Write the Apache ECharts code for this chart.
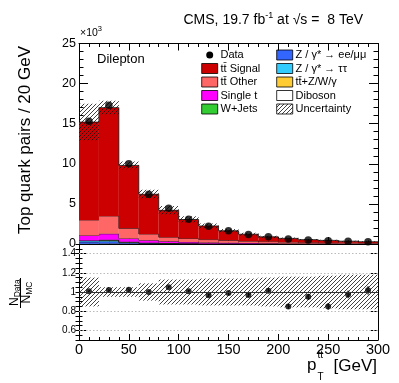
<!DOCTYPE html>
<html><head><meta charset="utf-8">
<script src="https://cdn.jsdelivr.net/npm/echarts@6/dist/echarts.min.js"></script>
<style>html,body{margin:0;padding:0;background:#fff}#c{width:399px;height:383px}</style>
</head><body><div id="c"></div>
<script>
// ---- data (values in units of 10^3 events) ----
const binLow   = [0,20,40,60,80,100,120,140,160,180,200,220,240,260,280];
const binWidth = 20;
const dataVals = [15.3,17.3,10.0,6.2,4.45,3.1,2.2,1.65,1.2,0.91,0.62,0.51,0.39,0.34,0.29];
const diboson  = [0.04,0.05,0.03,0.02,0.015,0.012,0.01,0.008,0.006,0.005,0.004,0.003,0.003,0.002,0.002];
const zll      = [0.22,0.25,0.12,0.07,0.05,0.035,0.025,0.02,0.015,0.012,0.01,0.008,0.006,0.005,0.004];
const ztt      = [0.14,0.16,0.07,0.03,0.02,0.012,0.008,0.006,0.004,0.003,0.002,0.002,0.001,0.001,0.001];
const ttv      = [0.02,0.03,0.03,0.03,0.025,0.02,0.018,0.015,0.012,0.01,0.008,0.007,0.006,0.005,0.004];
const wjets    = [0.03,0.03,0.02,0.01,0.008,0.006,0.004,0.003,0.002,0.002,0.001,0.001,0.001,0.001,0.001];
const singleT  = [0.61,0.75,0.42,0.30,0.22,0.17,0.13,0.10,0.08,0.065,0.05,0.04,0.033,0.027,0.022];
const ttOther  = [1.94,2.23,1.26,0.79,0.51,0.43,0.355,0.30,0.24,0.20,0.175,0.14,0.12,0.10,0.086];
const ttSignal = [12.2,13.5,7.85,4.95,3.35,2.37,1.70,1.20,0.86,0.60,0.45,0.34,0.28,0.21,0.16];
const relUnc   = [0.15,0.05,0.05,0.09,0.13,0.13,0.14,0.14,0.14,0.15,0.16,0.16,0.17,0.18,0.18];
const ratioVals= [1.007,1.02,1.024,1.0,1.05,1.007,0.965,0.99,0.97,1.014,0.85,0.95,0.85,0.975,1.017];
const ratioErr = [0.01,0.01,0.01,0.01,0.012,0.015,0.015,0.02,0.02,0.025,0.025,0.03,0.035,0.04,0.045];
const xTicks   = [0,50,100,150,200,250,300];
const ratioTicks = [0.6,0.8,1,1.2,1.4];
const ratioGridLines = [0.6,0.8,1.2,1.4];
const legendCol1 = ['Data','tt\u0304 Signal','tt\u0304 Other','Single t','W+Jets'];
const legendCol2 = ['Z / \u03b3* \u2192 ee/\u03bc\u03bc','Z / \u03b3* \u2192 \u03c4\u03c4','tt\u0304+Z/W/\u03b3','Diboson','Uncertainty'];

const FONT = "'Liberation Sans', Arial, Helvetica, sans-serif";
const comps = [
  {name:'Diboson', vals:diboson, color:'#ffffff'},
  {name:legendCol2[0], vals:zll, color:'#3366ff'},
  {name:legendCol2[1], vals:ztt, color:'#33ccff'},
  {name:legendCol2[2], vals:ttv, color:'#ffcc33'},
  {name:'W+Jets', vals:wjets, color:'#33cc33'},
  {name:'Single t', vals:singleT, color:'#ff00ff'},
  {name:legendCol1[2], vals:ttOther, color:'#ff6666'},
  {name:legendCol1[1], vals:ttSignal, color:'#cc0000'}
];
const colorOf = {}; comps.forEach(c=>colorOf[c.name]=c.color);

function hatchCanvas(){
  const c=document.createElement('canvas'); c.width=4; c.height=4;
  const g=c.getContext('2d'); g.strokeStyle='#111'; g.lineWidth=0.8;
  g.beginPath(); g.moveTo(0,4); g.lineTo(4,0); g.moveTo(-1,1); g.lineTo(1,-1); g.moveTo(3,5); g.lineTo(5,3); g.stroke();
  return c;
}
const hatch = {image: hatchCanvas(), repeat:'repeat'};

// stacking
let base = binLow.map(()=>0);
const series = [];
comps.forEach(c=>{
  const b = base.slice();
  const tops = b.map((v,i)=>v+c.vals[i]);
  series.push({
    type:'custom', name:c.name, xAxisIndex:0, yAxisIndex:0, clip:true, silent:true,
    data: binLow.map((x,i)=>[x, x+binWidth, b[i], tops[i], i<tops.length-1?tops[i+1]:tops[i]]),
    renderItem(params, api){
      const p0=api.coord([api.value(0),api.value(2)]), p1=api.coord([api.value(1),api.value(3)]);
      const pn=api.coord([api.value(1),api.value(4)]);
      return {type:'group', children:[
        {type:'rect', shape:{x:p0[0], y:p1[1], width:p1[0]-p0[0], height:p0[1]-p1[1]}, style:{fill:c.color}},
        {type:'line', shape:{x1:p0[0],y1:p1[1],x2:p1[0],y2:p1[1]}, style:{stroke:'#111',lineWidth:0.8}},
        {type:'line', shape:{x1:p1[0],y1:p1[1],x2:p1[0],y2:pn[1]}, style:{stroke:'#111',lineWidth:0.8}}
      ]};
    }
  });
  base = tops;
});
const mcTotal = base;

series.push({
  type:'custom', name:'Uncertainty', xAxisIndex:0, yAxisIndex:0, clip:true, silent:true,
  data: binLow.map((x,i)=>[x, x+binWidth, mcTotal[i]*(1-relUnc[i]), mcTotal[i]*(1+relUnc[i])]),
  renderItem(params, api){
    const p0=api.coord([api.value(0),api.value(2)]), p1=api.coord([api.value(1),api.value(3)]);
    return {type:'rect', shape:{x:p0[0], y:p1[1], width:p1[0]-p0[0], height:p0[1]-p1[1]}, style:{fill:hatch}};
  }
});
series.push({
  type:'scatter', name:'Data', xAxisIndex:0, yAxisIndex:0, symbol:'circle', symbolSize:7.5,
  itemStyle:{color:'#000'}, silent:true,
  data: binLow.map((x,i)=>[x+binWidth/2, dataVals[i]])
});
// ratio panel
series.push({
  type:'custom', name:'ratioBand', xAxisIndex:2, yAxisIndex:2, clip:true, silent:true,
  data: binLow.map((x,i)=>[x, x+binWidth, 1-relUnc[i], 1+relUnc[i]]),
  renderItem(params, api){
    const p0=api.coord([api.value(0),api.value(2)]), p1=api.coord([api.value(1),api.value(3)]);
    return {type:'rect', shape:{x:p0[0], y:p1[1], width:p1[0]-p0[0], height:p0[1]-p1[1]}, style:{fill:hatch}};
  },
  markLine:{silent:true, symbol:'none', label:{show:false},
    data:[...ratioGridLines.map(v=>({yAxis:v, lineStyle:{color:'#bbb', type:[1.5,2], width:1}})),
          {yAxis:1, lineStyle:{color:'#333', type:'solid', width:1}}]}
});
series.push({
  type:'custom', name:'ratioErr', xAxisIndex:2, yAxisIndex:2, silent:true,
  data: binLow.map((x,i)=>[x+binWidth/2, ratioVals[i]-ratioErr[i], ratioVals[i]+ratioErr[i]]),
  renderItem(params, api){
    const a=api.coord([api.value(0),api.value(1)]), b=api.coord([api.value(0),api.value(2)]);
    return {type:'line', shape:{x1:a[0],y1:a[1],x2:b[0],y2:b[1]}, style:{stroke:'#000',lineWidth:1}};
  }
});
series.push({
  type:'scatter', name:'ratio', xAxisIndex:2, yAxisIndex:2, symbol:'circle', symbolSize:6,
  itemStyle:{color:'#000'}, silent:true,
  data: binLow.map((x,i)=>[x+binWidth/2, ratioVals[i]])
});

const line = {show:true, onZero:false, lineStyle:{color:'#000', width:1}};
const xBase = {type:'value', min:0, max:300, interval:50, splitLine:{show:false}, axisLine:line};
const xAxis = [
  {...xBase, gridIndex:0, position:'bottom', axisLabel:{show:false}, axisTick:{inside:true,length:7,lineStyle:{color:'#000'}}, minorTick:{show:true,splitNumber:5,length:3.5,lineStyle:{color:'#000'}}},
  {...xBase, gridIndex:0, position:'top', axisLabel:{show:false}, axisTick:{inside:true,length:7,lineStyle:{color:'#000'}}, minorTick:{show:true,splitNumber:5,length:3.5,lineStyle:{color:'#000'}}},
  {...xBase, gridIndex:1, position:'bottom', axisLabel:{show:true, fontSize:14.5, fontFamily:FONT, color:'#000', margin:2, customValues:xTicks}, axisTick:{inside:true,length:6,lineStyle:{color:'#000'}}, minorTick:{show:true,splitNumber:5,length:3,lineStyle:{color:'#000'}}},
  {...xBase, gridIndex:1, position:'top', axisLabel:{show:false}, axisTick:{show:false}}
];
const yMain = {type:'value', gridIndex:0, min:0, max:25, interval:5, splitLine:{show:false}, axisLine:line,
  axisTick:{inside:true,length:9,lineStyle:{color:'#000'}}, minorTick:{show:true,splitNumber:5,length:4.5,lineStyle:{color:'#000'}}};
const yR = {type:'value', gridIndex:1, min:0.5, max:1.5, splitLine:{show:false}};
const yAxis = [
  {...yMain, position:'left', axisLabel:{fontSize:12.5, fontFamily:FONT, color:'#000', margin:3}},
  {...yMain, position:'right', axisLabel:{show:false}},
  {...yR, position:'left', axisLine:line, axisLabel:{fontSize:10, fontFamily:FONT, color:'#000', margin:3, customValues:ratioTicks, formatter:v=>(Math.abs(v-1)<1e-6?'1':(+v).toFixed(1))}, axisTick:{inside:true,length:7,customValues:ratioTicks,lineStyle:{color:'#000'}}},
  {...yR, position:'right', axisLine:line, axisLabel:{show:false}, axisTick:{inside:true,length:7,customValues:ratioTicks,lineStyle:{color:'#000'}}},
  {...yR, position:'left', interval:0.05, axisLine:{show:false}, axisLabel:{show:false}, axisTick:{inside:true,length:3.5,lineStyle:{color:'#000'}}},
  {...yR, position:'right', interval:0.05, axisLine:{show:false}, axisLabel:{show:false}, axisTick:{inside:true,length:3.5,lineStyle:{color:'#000'}}}
];

// ---- text / legend graphics ----
const mctx = document.createElement('canvas').getContext('2d');
function tw(t, size){ mctx.font = size+'px '+FONT; return mctx.measureText(t).width; }
function txt(t, x, y, size, extra){ return {type:'text', x, y, silent:true, style:Object.assign({text:t, fontSize:size, fontFamily:FONT, fill:'#000', align:'left', verticalAlign:'middle'}, extra||{})}; }

const graphic = [];
// header
const h1='CMS, 19.7 fb', h2='-1', h3=' at \u221as =  8 TeV';
const hw = tw(h1,14)+tw(h2,9)+tw(h3,14);
let hx = 363 - hw;
graphic.push(txt(h1,hx,20,14)); hx+=tw(h1,14);
graphic.push(txt(h2,hx,15.5,9)); hx+=tw(h2,9);
graphic.push(txt(h3,hx,20,14));
// x10^3
graphic.push(txt('\u00d710',80,33,10.5));
graphic.push(txt('3',80+tw('\u00d710',10.5),28.5,7.5));
// Dilepton
graphic.push(txt('Dilepton',97,59.5,13));
// y title
graphic.push({type:'text', x:25, y:140, rotation:Math.PI/2, silent:true, style:{text:'Top quark pairs / 20 GeV', fontSize:17, fontFamily:FONT, fill:'#000', align:'center', verticalAlign:'middle'}});
// ratio title (fraction)
graphic.push({type:'group', x:20.5, y:293, rotation:Math.PI/2, silent:true, children:[
  txt('N',-13,-5.5,12), txt('Data',-13+tw('N',12),-3,8.5),
  {type:'line', shape:{x1:-15,y1:0,x2:15,y2:0}, style:{stroke:'#000',lineWidth:1}},
  txt('N',-10.5,6.5,12), txt('MC',-10.5+tw('N',12),9,8.5)
]});
// x title
graphic.push(txt('p',307,365,17));
graphic.push(txt('T',317.5,377.5,10));
graphic.push(txt('tt\u0304',317.5,355.5,10));
graphic.push(txt('[GeV]',377,366,17,{align:'right'}));
// legend
const rowY = [55,68.5,82,95.5,109];
legendCol1.forEach((n,i)=>{
  const y=rowY[i];
  if(n==='Data') graphic.push({type:'circle', silent:true, shape:{cx:209.7, cy:y, r:3.5}, style:{fill:'#000'}});
  else graphic.push({type:'rect', silent:true, shape:{x:201.7,y:y-5,width:16,height:10}, style:{fill:colorOf[n], stroke:'#000', lineWidth:0.8}});
  graphic.push(txt(n,220.5,y,11));
});
legendCol2.forEach((n,i)=>{
  const y=rowY[i];
  const fill = n==='Uncertainty'? hatch : colorOf[n];
  graphic.push({type:'rect', silent:true, shape:{x:276.7,y:y-5,width:16,height:10}, style:{fill:fill, stroke:'#000', lineWidth:0.8}});
  graphic.push(txt(n,295.5,y,11));
});

const chart = echarts.init(document.getElementById('c'), null, {renderer:'canvas'});
chart.setOption({
  animation:false,
  backgroundColor:'#fff',
  grid:[{left:79, right:21, top:43.5, height:200.5, containLabel:false},
        {left:79, right:21, top:244, height:96, containLabel:false}],
  xAxis, yAxis, series, graphic
});
</script></body></html>
